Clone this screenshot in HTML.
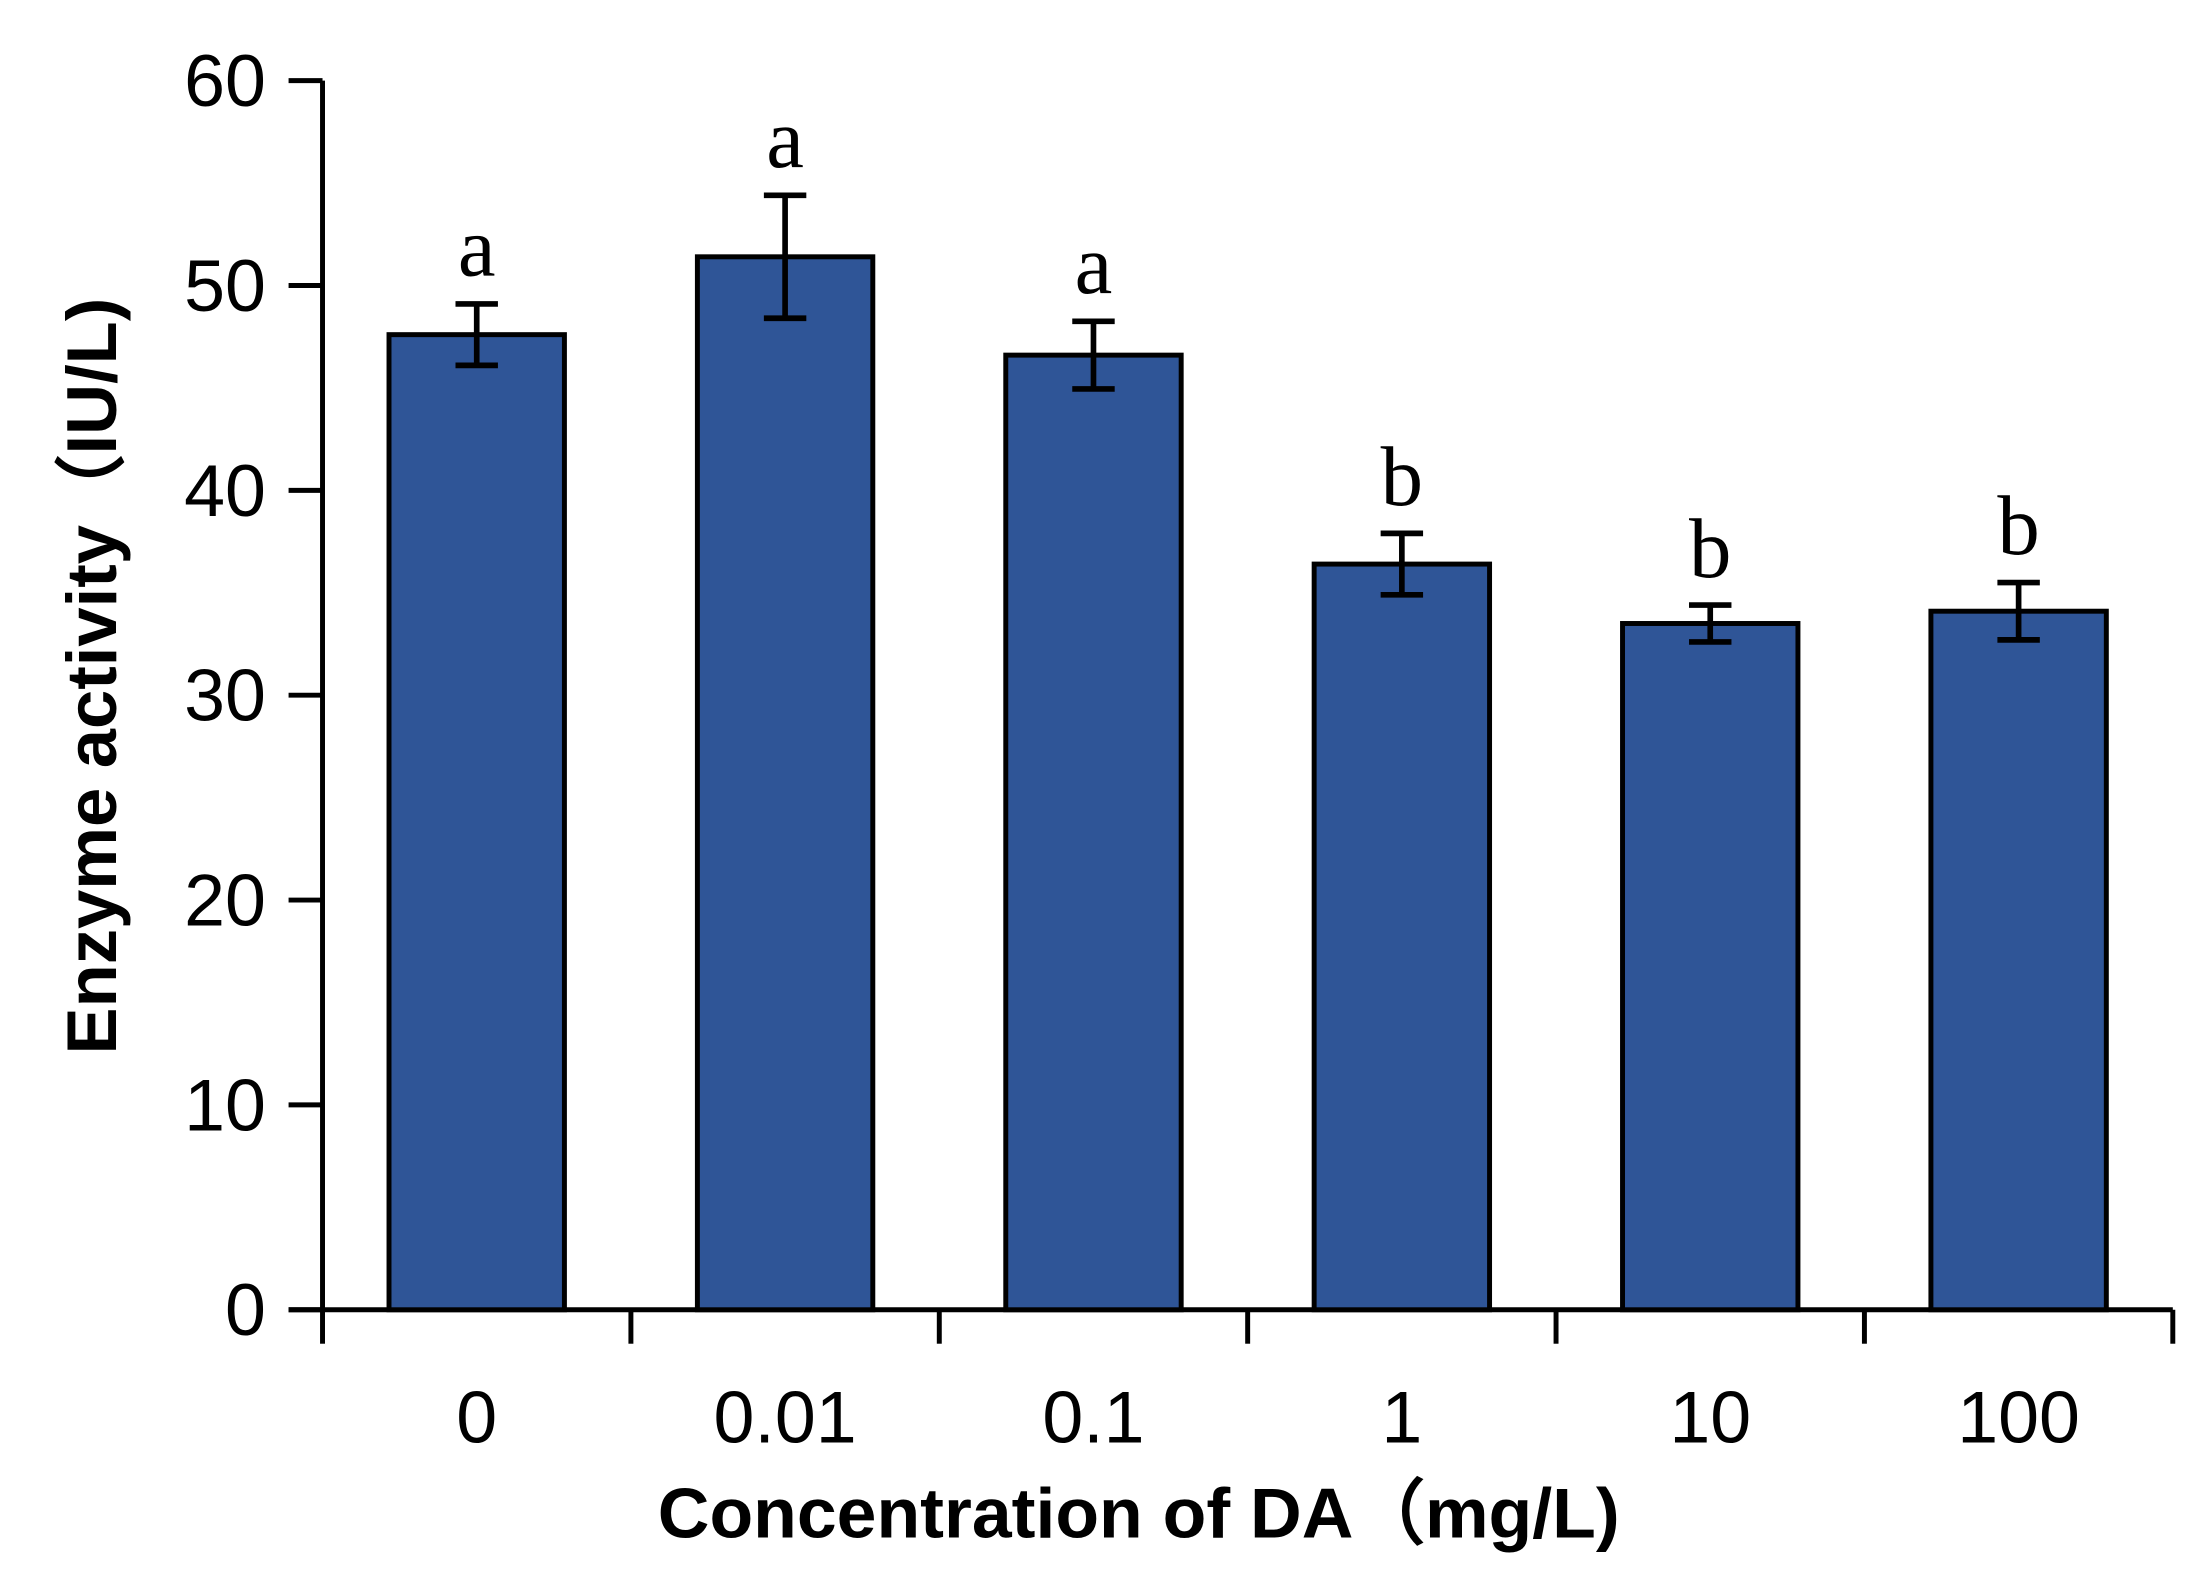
<!DOCTYPE html>
<html><head><meta charset="utf-8"><style>
html,body{margin:0;padding:0;background:#fff;}
svg{display:block;}
</style></head><body>
<svg id="chart" width="2211" height="1587" viewBox="0 0 1563 1122" preserveAspectRatio="none" xmlns="http://www.w3.org/2000/svg">
<g id="axes"></g>
<g id="bars"></g>
<text x="805" y="1087" text-anchor="middle" font-family="Liberation Sans, sans-serif" font-weight="bold" font-size="50" textLength="680" lengthAdjust="spacingAndGlyphs">Concentration of DA（mg/L)</text>
<text transform="translate(82,478) rotate(-90)" text-anchor="middle" font-family="Liberation Sans, sans-serif" font-weight="bold" font-size="50" textLength="535" lengthAdjust="spacingAndGlyphs">Enzyme activity（IU/L)</text>
</svg>
<script>
const categories = ["0","0.01","0.1","1","10","100"];
const values = [47.6, 51.4, 46.6, 36.4, 33.5, 34.1];
const errors = [1.5, 3.0, 1.65, 1.5, 0.9, 1.4];
const letters = ["a","a","a","b","b","b"];
const yTicks = [0,10,20,30,40,50,60];

const NS = "http://www.w3.org/2000/svg";
const X0 = 228, X1 = 1536, Y0 = 926, Y60 = 57;
const yScale = v => Y0 - (v / 60) * (Y0 - Y60);
const band = (X1 - X0) / categories.length;
const xCenter = i => X0 + band * (i + 0.5);
const barW = 124;

function mk(tag, attrs, parent) {
  const e = document.createElementNS(NS, tag);
  for (const k in attrs) e.setAttribute(k, attrs[k]);
  parent.appendChild(e);
  return e;
}
const axes = document.getElementById('axes');
const bars = document.getElementById('bars');

let yl = mk('line', {x1:X0, y1:Y0, x2:X0, y2:Y60, stroke:'#000', 'stroke-width':3.5}, axes);


let xl = mk('line', {x1:X0-24, y1:Y0, x2:X1, y2:Y0, stroke:'#000', 'stroke-width':3.5}, axes);



yTicks.forEach(t => {
  const y = yScale(t);
  const tk = mk('line', {x1:X0-24, y1:y, x2:X0, y2:y, stroke:'#000', 'stroke-width':3.5}, axes);
  
  
  const tx = mk('text', {x:188, y:y+18, 'text-anchor':'end', 'font-family':'Liberation Sans, sans-serif', 'font-size':52}, axes);
  tx.textContent = t;
  
  
});
for (let i = 0; i <= categories.length; i++) {
  const x = X0 + band * i;
  const tk = mk('line', {x1:x, y1:Y0, x2:x, y2:Y0+24, stroke:'#000', 'stroke-width':3.5}, axes);
  
  
}
categories.forEach((c, i) => {
  const cx = xCenter(i);
  const tx = mk('text', {x:cx, y:1020, 'text-anchor':'middle', 'font-family':'Liberation Sans, sans-serif', 'font-size':52}, axes);
  tx.textContent = c;
  
  

  const top = yScale(values[i]);
  const r = mk('rect', {x:cx-barW/2, y:top, width:barW, height:Y0-top, fill:'#2f5597', stroke:'#000', 'stroke-width':3.5}, bars);
  
  

  const eHi = yScale(values[i] + errors[i]), eLo = yScale(values[i] - errors[i]);
  const g = mk('g', {stroke:'#000', 'stroke-width':4}, bars);
  
  
  mk('line', {x1:cx, y1:eHi, x2:cx, y2:eLo}, g);
  mk('line', {x1:cx-15, y1:eHi, x2:cx+15, y2:eHi}, g);
  mk('line', {x1:cx-15, y1:eLo, x2:cx+15, y2:eLo}, g);

  const lt = mk('text', {x:cx, y:eHi-20, 'text-anchor':'middle', 'font-family':'Liberation Serif, serif', 'font-size':60}, bars);
  lt.textContent = letters[i];
  
  
});
</script>
</body></html>
